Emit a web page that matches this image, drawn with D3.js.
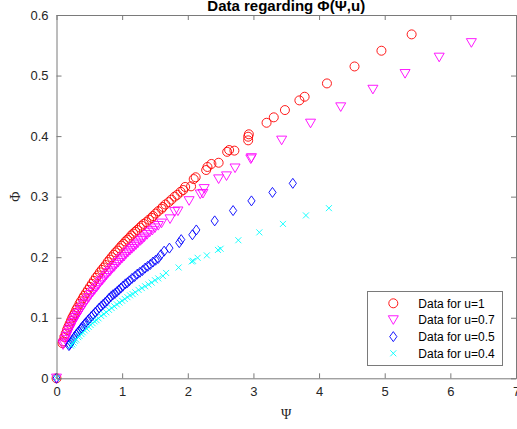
<!DOCTYPE html>
<html>
<head>
<meta charset="utf-8">
<script src="https://cdn.jsdelivr.net/npm/d3@7"></script>
<style>
  html, body { margin: 0; padding: 0; background: #fff; }
  svg { display: block; }
  text { font-family: "Liberation Sans", Arial, Helvetica, sans-serif; }
</style>
</head>
<body>
<svg id="chart" width="517" height="429"></svg>
<script>
// Measured Φ against Ψ for four values of u
const psiU1 = [0, 0.09, 0.10, 0.12, 0.14, 0.16, 0.18, 0.20, 0.22, 0.24, 0.26, 0.28, 0.30, 0.32, 0.35, 0.37, 0.40, 0.42, 0.45, 0.48, 0.51, 0.54, 0.57, 0.60, 0.63, 0.66, 0.69, 0.72, 0.75, 0.78, 0.81, 0.84, 0.87, 0.90, 0.93, 0.96, 0.99, 1.02, 1.05, 1.08, 1.11, 1.14, 1.17, 1.20, 1.23, 1.27, 1.30, 1.33, 1.37, 1.41, 1.45, 1.47, 1.51, 1.55, 1.60, 1.62, 1.66, 1.71, 1.75, 1.80, 1.84, 1.89, 1.93, 1.96, 2.05, 2.09, 2.12, 2.28, 2.30, 2.36, 2.47, 2.60, 2.63, 2.71, 2.92, 2.92, 2.93, 3.20, 3.31, 3.48, 3.70, 3.78, 4.12, 4.54, 4.95, 5.41];
const phiU1 = [0, 0.058, 0.061, 0.068, 0.074, 0.080, 0.085, 0.090, 0.095, 0.100, 0.104, 0.108, 0.113, 0.117, 0.123, 0.127, 0.132, 0.136, 0.141, 0.146, 0.151, 0.156, 0.161, 0.166, 0.170, 0.175, 0.179, 0.183, 0.187, 0.192, 0.196, 0.200, 0.204, 0.208, 0.211, 0.215, 0.219, 0.222, 0.226, 0.229, 0.232, 0.236, 0.239, 0.242, 0.245, 0.249, 0.252, 0.255, 0.258, 0.262, 0.265, 0.268, 0.272, 0.276, 0.280, 0.283, 0.287, 0.291, 0.295, 0.300, 0.303, 0.308, 0.311, 0.316, 0.317, 0.329, 0.332, 0.344, 0.349, 0.354, 0.356, 0.374, 0.377, 0.376, 0.393, 0.399, 0.403, 0.422, 0.431, 0.443, 0.459, 0.465, 0.487, 0.515, 0.541, 0.568];

const psiU07 = [0, 0.10, 0.11, 0.13, 0.15, 0.17, 0.19, 0.21, 0.23, 0.25, 0.27, 0.29, 0.31, 0.33, 0.36, 0.38, 0.41, 0.43, 0.46, 0.49, 0.52, 0.55, 0.58, 0.61, 0.64, 0.67, 0.70, 0.73, 0.76, 0.79, 0.82, 0.85, 0.88, 0.91, 0.94, 0.97, 1.00, 1.03, 1.06, 1.09, 1.12, 1.15, 1.18, 1.21, 1.24, 1.28, 1.31, 1.34, 1.38, 1.42, 1.46, 1.50, 1.55, 1.60, 1.73, 1.80, 1.85, 2.02, 2.19, 2.23, 2.25, 2.47, 2.59, 2.72, 2.96, 2.97, 3.43, 3.87, 4.33, 4.82, 5.31, 5.83, 6.32];
const phiU07 = [0, 0.055, 0.058, 0.064, 0.069, 0.074, 0.079, 0.083, 0.088, 0.092, 0.096, 0.100, 0.103, 0.107, 0.112, 0.116, 0.121, 0.124, 0.129, 0.133, 0.138, 0.142, 0.146, 0.150, 0.154, 0.159, 0.162, 0.166, 0.170, 0.174, 0.177, 0.181, 0.184, 0.188, 0.191, 0.195, 0.198, 0.201, 0.205, 0.208, 0.211, 0.214, 0.217, 0.220, 0.223, 0.227, 0.230, 0.233, 0.237, 0.241, 0.244, 0.248, 0.252, 0.256, 0.263, 0.275, 0.276, 0.293, 0.304, 0.305, 0.313, 0.329, 0.334, 0.347, 0.362, 0.364, 0.393, 0.421, 0.448, 0.477, 0.503, 0.530, 0.554];

const psiU05 = [0, 0.19, 0.20, 0.22, 0.24, 0.26, 0.28, 0.30, 0.32, 0.34, 0.36, 0.38, 0.40, 0.43, 0.45, 0.48, 0.50, 0.53, 0.56, 0.59, 0.62, 0.65, 0.68, 0.71, 0.74, 0.77, 0.80, 0.83, 0.86, 0.89, 0.92, 0.95, 0.98, 1.01, 1.05, 1.08, 1.11, 1.15, 1.19, 1.23, 1.27, 1.31, 1.35, 1.39, 1.43, 1.47, 1.51, 1.55, 1.59, 1.64, 1.72, 1.87, 1.90, 2.07, 2.13, 2.41, 2.69, 2.97, 3.29, 3.60];
const phiU05 = [0, 0.054, 0.056, 0.059, 0.062, 0.066, 0.069, 0.072, 0.075, 0.077, 0.080, 0.083, 0.086, 0.090, 0.092, 0.096, 0.098, 0.102, 0.105, 0.109, 0.112, 0.116, 0.119, 0.122, 0.125, 0.128, 0.132, 0.135, 0.138, 0.140, 0.143, 0.146, 0.149, 0.152, 0.156, 0.158, 0.161, 0.165, 0.168, 0.172, 0.175, 0.178, 0.182, 0.185, 0.188, 0.192, 0.195, 0.198, 0.204, 0.210, 0.215, 0.224, 0.229, 0.237, 0.245, 0.260, 0.277, 0.293, 0.307, 0.322];

const psiU04 = [0, 0.22, 0.24, 0.26, 0.28, 0.30, 0.33, 0.35, 0.38, 0.40, 0.43, 0.46, 0.49, 0.52, 0.55, 0.58, 0.61, 0.64, 0.68, 0.72, 0.76, 0.80, 0.84, 0.88, 0.92, 0.96, 1.00, 1.04, 1.08, 1.12, 1.16, 1.20, 1.25, 1.30, 1.35, 1.40, 1.45, 1.50, 1.55, 1.62, 1.67, 1.86, 2.06, 2.08, 2.15, 2.29, 2.46, 2.50, 2.77, 3.09, 3.45, 3.80, 4.15];
const phiU04 = [0, 0.054, 0.056, 0.059, 0.062, 0.064, 0.068, 0.070, 0.073, 0.076, 0.079, 0.082, 0.085, 0.088, 0.091, 0.094, 0.096, 0.099, 0.103, 0.106, 0.109, 0.113, 0.116, 0.119, 0.122, 0.125, 0.128, 0.131, 0.134, 0.137, 0.139, 0.142, 0.146, 0.149, 0.152, 0.155, 0.158, 0.162, 0.165, 0.169, 0.174, 0.183, 0.193, 0.194, 0.199, 0.203, 0.212, 0.214, 0.228, 0.241, 0.255, 0.269, 0.281];

const seriesNames = ["Data for u=1", "Data for u=0.7", "Data for u=0.5", "Data for u=0.4"];
const xTicks = [0, 1, 2, 3, 4, 5, 6, 7];
const yTicks = [0, 0.1, 0.2, 0.3, 0.4, 0.5, 0.6];

const series = [
  { name: seriesNames[0], xs: psiU1,  ys: phiU1,  color: "#ff0000", shape: "circle" },
  { name: seriesNames[1], xs: psiU07, ys: phiU07, color: "#ff00ff", shape: "triangleDown" },
  { name: seriesNames[2], xs: psiU05, ys: phiU05, color: "#0000ff", shape: "diamond" },
  { name: seriesNames[3], xs: psiU04, ys: phiU04, color: "#00ffff", shape: "cross" }
];

const svg = d3.select("#chart");
const plotL = 56.5, plotR = 516, plotT = 15, plotB = 378.3;
const x = d3.scaleLinear().domain([0, 7]).range([plotL, plotR]);
const y = d3.scaleLinear().domain([0, 0.6]).range([plotB, plotT]);

const axisColor = "#7a7a7a";
const textColor = "#262626";

// Marker outlines centred on the data point
function markerPath(shape) {
  switch (shape) {
    case "circle": return "M4.5,0A4.5,4.5 0 1,1 -4.5,0A4.5,4.5 0 1,1 4.5,0Z";
    case "triangleDown": return "M-5,-4.2L5,-4.2L0,4.4Z";
    case "diamond": return "M0,-5L3.6,0L0,5L-3.6,0Z";
    case "cross": return "M-3,-3L3,3M-3,3L3,-3";
  }
}

// Plot area background
svg.append("rect")
  .attr("x", plotL).attr("y", plotT)
  .attr("width", plotR - plotL).attr("height", plotB - plotT)
  .attr("fill", "#fff");

// Data markers, drawn in series order
const plot = svg.append("g");
series.forEach(s => {
  plot.append("g").selectAll("path")
    .data(s.xs.map((v, i) => [v, s.ys[i]]))
    .join("path")
    .attr("transform", d => `translate(${x(d[0])},${y(d[1])})`)
    .attr("d", markerPath(s.shape))
    .attr("fill", "none")
    .attr("stroke", s.color)
    .attr("stroke-width", 0.9);
});

// Axes with inward ticks on all four sides
const tickLen = 5;
const xAxisB = d3.axisBottom(x).tickValues(xTicks).tickSizeInner(-tickLen).tickSizeOuter(0).tickPadding(8).tickFormat(d3.format("d"));
const xAxisT = d3.axisTop(x).tickValues(xTicks).tickSizeInner(-tickLen).tickSizeOuter(0).tickFormat("");
const yAxisL = d3.axisLeft(y).tickValues(yTicks).tickSizeInner(-tickLen).tickSizeOuter(0).tickPadding(8).tickFormat(d => d === 0 ? "0" : d3.format(".1f")(d));
const yAxisR = d3.axisRight(y).tickValues(yTicks).tickSizeInner(-tickLen).tickSizeOuter(0).tickFormat("");

function styleAxis(g) {
  g.select(".domain").attr("stroke", axisColor).attr("stroke-width", 1);
  g.selectAll(".tick line").attr("stroke", axisColor).attr("stroke-width", 1);
  g.selectAll(".tick text").attr("fill", textColor)
    .style("font-family", "'Liberation Sans', Arial, sans-serif").style("font-size", "13px");
}

svg.append("g").attr("transform", `translate(0,${plotB})`).call(xAxisB).call(styleAxis);
svg.append("g").attr("transform", `translate(0,${plotT})`).call(xAxisT).call(styleAxis);
svg.append("g").attr("transform", `translate(${plotL},0)`).call(yAxisL).call(styleAxis);
svg.append("g").attr("transform", `translate(${plotR},0)`).call(yAxisR).call(styleAxis);

// Title and axis labels
svg.append("text")
  .attr("x", (plotL + plotR) / 2).attr("y", 11)
  .attr("text-anchor", "middle")
  .style("font-size", "15px").style("font-weight", "bold")
  .attr("fill", "#000")
  .text("Data regarding Φ(Ψ,u)");

svg.append("text")
  .attr("x", (plotL + plotR) / 2).attr("y", 419)
  .attr("text-anchor", "middle")
  .style("font-family", "'Liberation Serif', 'Times New Roman', serif")
  .style("font-size", "14px")
  .attr("fill", textColor)
  .text("Ψ");

svg.append("text")
  .attr("transform", `translate(20,${(plotT + plotB) / 2}) rotate(-90)`)
  .attr("text-anchor", "middle")
  .style("font-family", "'Liberation Serif', 'Times New Roman', serif")
  .style("font-size", "14px")
  .attr("fill", textColor)
  .text("Φ");

// Legend
const lg = svg.append("g");
lg.append("rect")
  .attr("x", 367.5).attr("y", 291.5)
  .attr("width", 135).attr("height", 74)
  .attr("fill", "#fff").attr("stroke", axisColor).attr("stroke-width", 1);

const rowY = d3.scaleLinear().domain([0, 3]).range([303.3, 353.3]);
series.forEach((s, i) => {
  lg.append("path")
    .attr("transform", `translate(393.3,${rowY(i)})`)
    .attr("d", markerPath(s.shape))
    .attr("fill", "none").attr("stroke", s.color).attr("stroke-width", 0.9);
  lg.append("text")
    .attr("x", 418.3).attr("y", rowY(i)).attr("dy", "0.35em")
    .style("font-size", "12px").attr("fill", "#000")
    .text(s.name);
});
</script>
</body>
</html>
